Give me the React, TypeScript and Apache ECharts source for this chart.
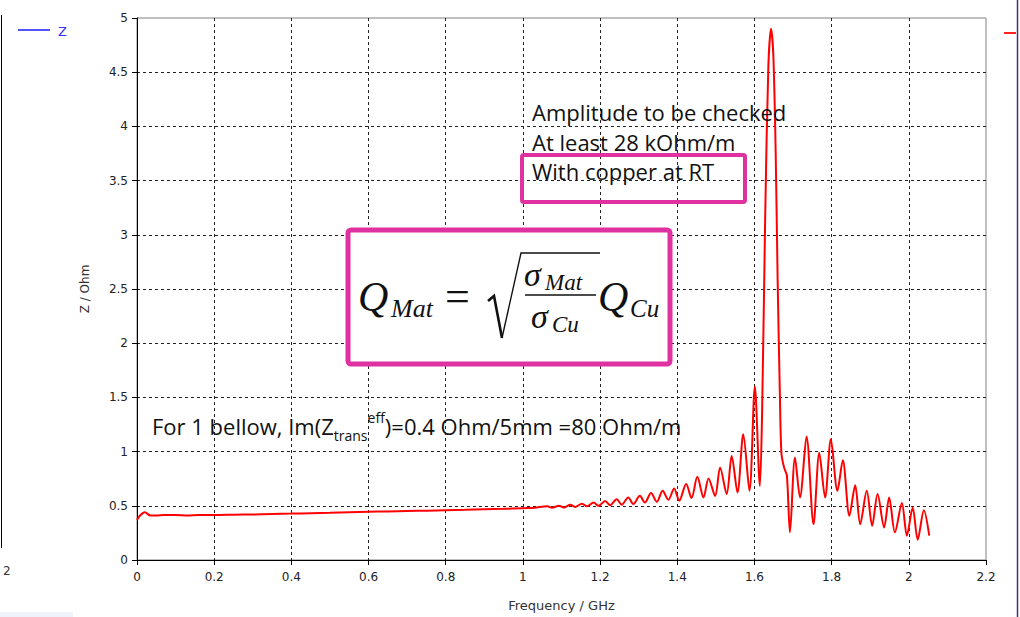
import React, { useEffect, useRef } from "react";
import * as echarts from "echarts";

// Frequency (GHz) and impedance (Ohm)
const freqGHz = [
  0.0, 0.008, 0.02, 0.035, 0.05, 0.07, 0.1, 0.13, 0.16, 0.2, 0.25, 0.3, 0.35, 0.4, 0.45, 0.5,
  0.55, 0.6, 0.65, 0.7, 0.75, 0.8, 0.85, 0.9, 0.95, 1.0, 1.03, 1.063, 1.076, 1.093, 1.106,
  1.123, 1.136, 1.153, 1.166, 1.183, 1.196, 1.213, 1.226, 1.243, 1.256, 1.273, 1.286, 1.303,
  1.316, 1.332, 1.347, 1.362, 1.377, 1.392, 1.405, 1.423, 1.437, 1.452, 1.468, 1.481, 1.498,
  1.511, 1.528, 1.541, 1.556, 1.571, 1.587, 1.601, 1.614, 1.62, 1.628, 1.636, 1.643, 1.649,
  1.655, 1.66, 1.666, 1.67, 1.677, 1.684, 1.692, 1.705, 1.718, 1.735, 1.753, 1.768, 1.783,
  1.798, 1.815, 1.829, 1.846, 1.861, 1.874, 1.891, 1.905, 1.919, 1.936, 1.949, 1.964, 1.982,
  1.995, 2.01, 2.023, 2.039, 2.053,
];
const zOhm = [
  0.37, 0.41, 0.44, 0.41, 0.41, 0.415, 0.415, 0.41, 0.415, 0.415, 0.418, 0.42, 0.425, 0.428,
  0.432, 0.435, 0.44, 0.445, 0.448, 0.452, 0.455, 0.46, 0.463, 0.468, 0.472, 0.478, 0.482,
  0.495, 0.482, 0.5, 0.485, 0.51, 0.49, 0.52, 0.495, 0.53, 0.5, 0.545, 0.505, 0.56, 0.51,
  0.577, 0.516, 0.592, 0.53, 0.617, 0.537, 0.638, 0.555, 0.66, 0.546, 0.7, 0.571, 0.767,
  0.577, 0.752, 0.592, 0.853, 0.608, 0.96, 0.623, 1.16, 0.638, 1.6, 0.684, 1.4, 3.2, 4.55,
  4.9, 4.65, 3.76, 2.6, 1.5, 0.98, 0.85, 0.78, 0.255, 0.945, 0.577, 1.139, 0.33, 0.99, 0.577,
  1.114, 0.638, 0.92, 0.408, 0.69, 0.33, 0.638, 0.316, 0.608, 0.3, 0.577, 0.255, 0.525, 0.224,
  0.485, 0.187, 0.46, 0.224,
];

const xAxisRange = { min: 0, max: 2.2, step: 0.2 };
const yAxisRange = { min: 0, max: 5, step: 0.5 };

const annotationLines = ["Amplitude to be checked", "At least 28 kOhm/m", "With copper at RT"];

const MAGENTA = "#DF32A0";
const AXIS_FONT = "DejaVu Sans";
const NOTE_FONT = "Open Sans";
const MATH_FONT = "Liberation Serif";

function mathText(x: number, y: number, text: string, size: number, italic = true) {
  return {
    type: "text",
    x,
    y,
    style: {
      text,
      fontFamily: MATH_FONT,
      fontSize: size,
      fontStyle: italic ? "italic" : "normal",
      fill: "#111",
      align: "left",
      verticalAlign: "middle",
    },
  };
}

export default function App() {
  const ref = useRef<HTMLDivElement>(null);
  useEffect(() => {
    const chart = echarts.init(ref.current!, null, { renderer: "svg" });
    const data = freqGHz.map((f, i) => [f, zOhm[i]]);
    const fmt = (v: number) => String(+v.toFixed(1));
    const option: any = {
      animation: false,
      backgroundColor: "#fff",
      grid: {
        left: 137,
        top: 18,
        right: 34,
        bottom: 56,
        show: true,
        borderColor: "#808080",
        borderWidth: 1,
        backgroundColor: "transparent",
      },
      xAxis: {
        type: "value",
        min: xAxisRange.min,
        max: xAxisRange.max,
        interval: xAxisRange.step,
        name: "Frequency / GHz",
        nameLocation: "middle",
        nameGap: 39,
        nameTextStyle: { fontFamily: AXIS_FONT, fontSize: 13, color: "#333" },
        axisLine: { show: true, lineStyle: { color: "#000", width: 1 } },
        axisTick: { show: true, length: 5, lineStyle: { color: "#000" } },
        axisLabel: {
          formatter: fmt,
          fontFamily: AXIS_FONT,
          fontSize: 12,
          color: "#222",
          margin: 11,
          showMaxLabel: true,
          showMinLabel: true,
        },
        splitLine: {
          show: true,
          showMinLine: false,
          showMaxLine: false,
          lineStyle: { color: "#222", type: [3, 3], width: 1 },
        },
      },
      yAxis: {
        type: "value",
        min: yAxisRange.min,
        max: yAxisRange.max,
        interval: yAxisRange.step,
        name: "Z / Ohm",
        nameLocation: "middle",
        nameGap: 46,
        nameTextStyle: { fontFamily: AXIS_FONT, fontSize: 12, color: "#333" },
        axisLine: { show: true, lineStyle: { color: "#000", width: 1 } },
        axisTick: { show: true, length: 5, lineStyle: { color: "#000" } },
        axisLabel: {
          formatter: fmt,
          fontFamily: AXIS_FONT,
          fontSize: 12,
          color: "#222",
          margin: 9,
        },
        splitLine: {
          show: true,
          showMinLine: false,
          showMaxLine: false,
          lineStyle: { color: "#222", type: [3, 3], width: 1 },
        },
      },
      series: [
        {
          type: "line",
          data,
          showSymbol: false,
          smooth: 0.3,
          lineStyle: { color: "#ff0000", width: 2 },
          z: 3,
        },
      ],
      graphic: [
        // left frame line & legend
        { type: "line", shape: { x1: 1.5, y1: 15, x2: 1.5, y2: 548 }, style: { stroke: "#000", lineWidth: 1 } },
        { type: "line", shape: { x1: 18, y1: 30, x2: 50, y2: 30 }, style: { stroke: "#1a1aff", lineWidth: 1.5 } },
        {
          type: "text", x: 58, y: 31,
          style: { text: "Z", fontFamily: AXIS_FONT, fontSize: 13, fill: "#3030ff", verticalAlign: "middle" },
        },
        {
          type: "text", x: 3, y: 571,
          style: { text: "2", fontFamily: AXIS_FONT, fontSize: 12, fill: "#333", verticalAlign: "middle" },
        },
        { type: "rect", shape: { x: 0, y: 612, width: 73, height: 5 }, style: { fill: "#eef3fb" } },
        // right edge marks
        { type: "line", shape: { x1: 1004, y1: 33, x2: 1016, y2: 33 }, style: { stroke: "#ff2020", lineWidth: 2 } },
        { type: "line", shape: { x1: 1017.5, y1: 0, x2: 1017.5, y2: 617 }, style: { stroke: "#4a2a88", lineWidth: 1.5 } },
        // annotation text block
        ...annotationLines.map((t, i) => ({
          type: "text",
          x: 532,
          y: 112 + i * 29.5,
          z: 10,
          style: { text: t, fontFamily: NOTE_FONT, fontSize: 22, fill: "#111", verticalAlign: "middle" },
        })),
        {
          type: "rect",
          z: 10,
          shape: { x: 522, y: 155, width: 223, height: 47, r: 2 },
          style: { fill: "none", stroke: MAGENTA, lineWidth: 4 },
        },
        // formula box
        {
          type: "rect",
          z: 10,
          shape: { x: 348, y: 230, width: 322, height: 134, r: 3 },
          style: { fill: "#fff", stroke: MAGENTA, lineWidth: 5 },
        },
        { ...mathText(358, 297, "Q", 42), z: 11 },
        { ...mathText(391, 308, "Mat", 26), z: 11 },
        { ...mathText(445, 296, "=", 44, false), z: 11 },
        {
          type: "polyline", z: 11,
          shape: { points: [[488, 301], [494, 296], [502, 338]] },
          style: { stroke: "#111", lineWidth: 2.6, fill: "none" },
        },
        {
          type: "polyline", z: 11,
          shape: { points: [[502, 338], [521, 253], [600, 253]] },
          style: { stroke: "#111", lineWidth: 1.4, fill: "none" },
        },
        { ...mathText(524, 274, "σ", 34), z: 11 },
        { ...mathText(545, 282, "Mat", 23), z: 11 },
        { type: "line", z: 11, shape: { x1: 525, y1: 295, x2: 596, y2: 295 }, style: { stroke: "#111", lineWidth: 1.4 } },
        { ...mathText(531, 316, "σ", 34), z: 11 },
        { ...mathText(552, 324, "Cu", 23), z: 11 },
        { ...mathText(598, 297, "Q", 42), z: 11 },
        { ...mathText(630, 308, "Cu", 25), z: 11 },
        // bellow note
        {
          type: "text",
          x: 152,
          y: 410,
          z: 10,
          style: {
            text: "{n|For 1 bellow, Im(Z}{sub|trans}{sup|eff}{n|)=0.4 Ohm/5mm =80 Ohm/m}",
            fontFamily: NOTE_FONT,
            fontSize: 22,
            fill: "#111",
            rich: {
              n: { fontFamily: NOTE_FONT, fontSize: 22, lineHeight: 32, fill: "#111" },
              sub: { fontFamily: NOTE_FONT, fontSize: 14, lineHeight: 14, verticalAlign: "bottom", fill: "#111" },
              sup: { fontFamily: NOTE_FONT, fontSize: 14, lineHeight: 14, verticalAlign: "top", fill: "#111" },
            },
          },
        },
      ],
    };
    chart.setOption(option);
    return () => chart.dispose();
  }, []);
  return (
    <div
      ref={ref}
      style={{ position: "fixed", left: 0, top: 0, width: 1020, height: 617, background: "#fff" }}
    />
  );
}
